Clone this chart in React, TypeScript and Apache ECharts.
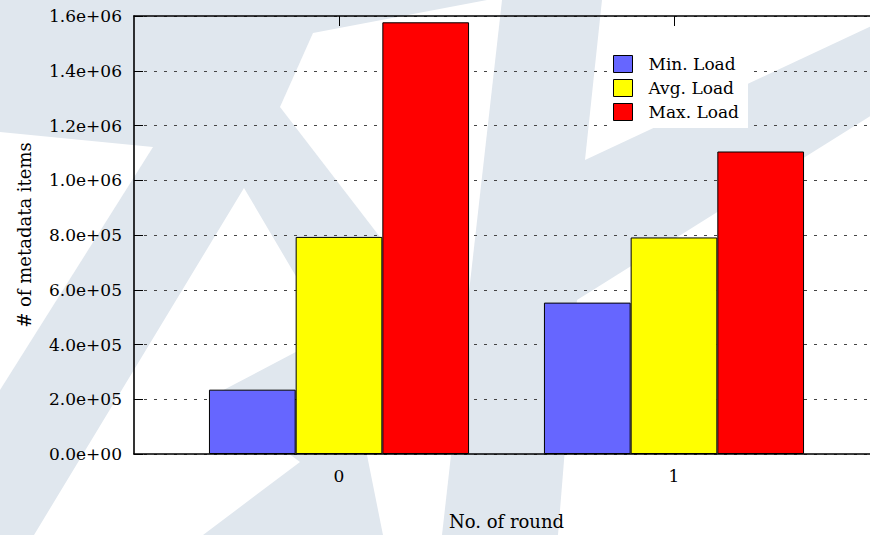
import React, { useEffect, useRef } from "react";
import * as echarts from "echarts";

// Rounds on the x axis and the three load series (number of metadata items)
const rounds = ["0", "1"];
const minLoad = [235000, 553000];
const avgLoad = [793000, 791000];
const maxLoad = [1577000, 1105000];
const seriesNames = ["Min. Load", "Avg. Load", "Max. Load"];

// y axis range and step
const yMin = 0;
const yMax = 1600000;
const yStep = 200000;

const FONT = "DejaVu Serif";
const BG_GRAY = "#e0e7ee";

// gnuplot-style exponent label: 1.6e+06, 0.0e+00
function sci(v: number): string {
  if (v === 0) return "0.0e+00";
  const e = Math.floor(Math.log10(Math.abs(v)) + 1e-9);
  const m = v / Math.pow(10, e);
  return m.toFixed(1) + "e" + (e < 0 ? "-" : "+") + String(Math.abs(e)).padStart(2, "0");
}

// Light watermark shapes behind the plot (white cut-outs over the grey page)
const whiteShapes: number[][][] = [
  [[0, 132], [153, 147], [0, 390]],
  [[244, 188], [330, 334], [212, 396], [300, 462], [203, 535], [34, 535]],
  [[367, 455], [451, 455], [442, 535], [383, 535]],
  [[313, 33], [487, 0], [502, 0], [463, 345], [280, 107]],
  [[602, 0], [880, 0], [880, 22], [585, 160]],
  [[577, 300], [880, 110], [880, 535], [558, 535]],
];

export default function App() {
  const ref = useRef<HTMLDivElement>(null);

  useEffect(() => {
    if (!ref.current) return;
    const chart = echarts.init(ref.current, undefined, { renderer: "svg" });
    const ticks = rounds.map((_, i) => i);
    const colors = ["#6666ff", "#ffff00", "#ff0000"];
    const values = [minLoad, avgLoad, maxLoad];
    const xMin = -0.612;
    const xMax = 1.612;

    chart.setOption({
      animation: false,
      backgroundColor: BG_GRAY,
      textStyle: { fontFamily: FONT, color: "#000" },
      graphic: {
        elements: whiteShapes.map((pts) => ({
          type: "polygon",
          silent: true,
          z: -10,
          shape: { points: pts },
          style: { fill: "#ffffff" },
        })),
      },
      grid: { left: 134, top: 16, right: 1, bottom: 78, containLabel: false },
      legend: {
        orient: "vertical",
        left: 610,
        top: 48,
        padding: [6, 9, 6, 3],
        backgroundColor: "#ffffff",
        itemWidth: 19,
        itemHeight: 17,
        itemGap: 4,
        icon: "rect",
        data: seriesNames,
        itemStyle: { borderColor: "#000", borderWidth: 1 },
        textStyle: {
          fontFamily: FONT,
          fontSize: 17,
          color: "#000",
          lineHeight: 20,
          padding: [0, 0, 0, 11],
        },
      },
      xAxis: [
        {
          type: "value",
          position: "bottom",
          min: xMin,
          max: xMax,
          name: "No. of round",
          nameLocation: "middle",
          nameGap: 58,
          nameTextStyle: { fontFamily: FONT, fontSize: 18, color: "#000" },
          axisLine: { show: true, onZero: false, lineStyle: { color: "#000", width: 1.6 } },
          axisTick: { show: true, inside: true, length: 10, customValues: ticks, lineStyle: { color: "#000" } },
          axisLabel: {
            customValues: ticks,
            formatter: (v: number) => rounds[Math.round(v)] ?? "",
            fontFamily: FONT,
            fontSize: 17,
            color: "#000",
            margin: 13,
          },
          splitLine: { show: false },
        },
        {
          type: "value",
          position: "top",
          min: xMin,
          max: xMax,
          axisLine: { show: true, onZero: false, lineStyle: { color: "#000", width: 1.6 } },
          axisTick: { show: true, inside: true, length: 10, customValues: ticks, lineStyle: { color: "#000" } },
          axisLabel: { show: false },
          splitLine: { show: false },
        },
      ],
      yAxis: {
        type: "value",
        min: yMin,
        max: yMax,
        interval: yStep,
        name: "# of metadata items",
        nameLocation: "middle",
        nameRotate: 90,
        nameGap: 101,
        nameTextStyle: { fontFamily: FONT, fontSize: 18, color: "#000" },
        axisLine: { show: true, onZero: false, lineStyle: { color: "#000", width: 1.6 } },
        axisTick: { show: true, inside: true, length: 9, lineStyle: { color: "#000" } },
        axisLabel: {
          formatter: (v: number) => sci(v),
          fontFamily: FONT,
          fontSize: 17,
          color: "#000",
          margin: 12,
        },
        splitLine: {
          show: true,
          lineStyle: { color: "#444", width: 1, type: [3, 7] },
        },
      },
      series: seriesNames.map((name, s) => ({
        name,
        type: "bar",
        xAxisIndex: 0,
        barWidth: 86.7,
        barGap: "0%",
        data: rounds.map((_, i) => [i, values[s][i]]),
        itemStyle: { color: colors[s], borderColor: "#000", borderWidth: 1 },
      })),
    });

    return () => chart.dispose();
  }, []);

  return (
    <div
      ref={ref}
      style={{ position: "fixed", left: 0, top: 0, width: 880, height: 535 }}
    />
  );
}
